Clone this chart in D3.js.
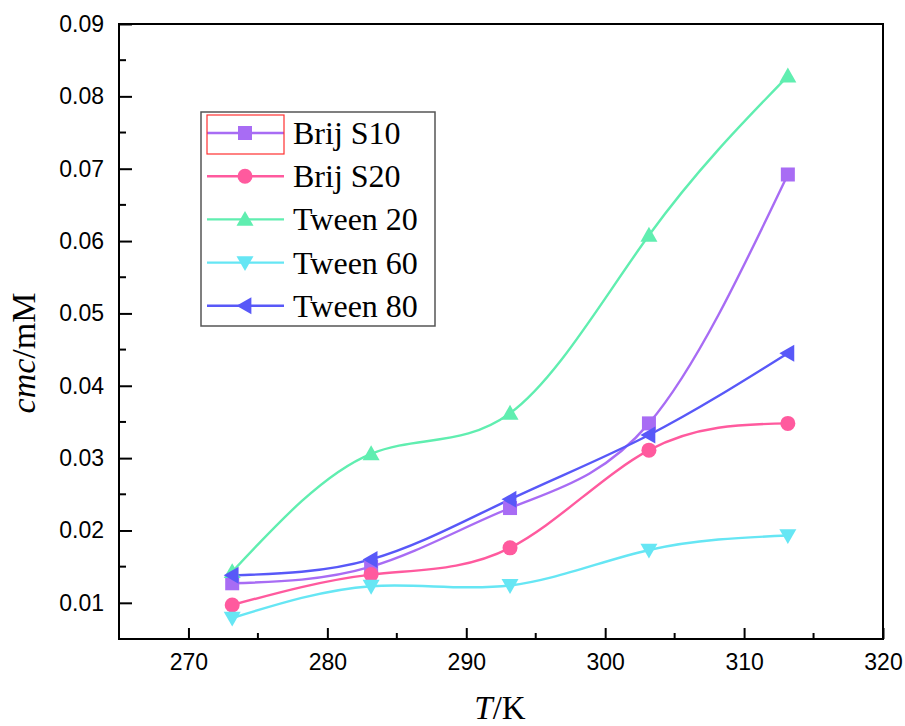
<!DOCTYPE html>
<html>
<head>
<meta charset="utf-8">
<script src="https://cdn.jsdelivr.net/npm/d3@7"></script>
<style>
  html, body { margin: 0; padding: 0; background: #fff; }
  svg { display: block; }
</style>
</head>
<body>
<svg id="chart" width="905" height="726"></svg>
<script>
// ---- Data ----
const temperatures = [273.15, 283.15, 293.15, 303.15, 313.15];
const seriesNames = ["Brij S10", "Brij S20", "Tween 20", "Tween 60", "Tween 80"];
const brijS10 = [0.0127, 0.0150, 0.0231, 0.0348, 0.0692];
const brijS20 = [0.0097, 0.0139, 0.0176, 0.0311, 0.0348];
const tween20 = [0.0143, 0.0306, 0.0362, 0.0608, 0.0828];
const tween60 = [0.0079, 0.0123, 0.0124, 0.0173, 0.0193];
const tween80 = [0.0138, 0.0160, 0.0243, 0.0332, 0.0445];
const xTicks = [270, 280, 290, 300, 310, 320];
const yTicks = [0.01, 0.02, 0.03, 0.04, 0.05, 0.06, 0.07, 0.08, 0.09];

const seriesValues = [brijS10, brijS20, tween20, tween60, tween80];
const colors = ["#A86CF4", "#FF5A9E", "#60EEB0", "#66E6F4", "#5858F8"];
const symbols = ["square", "circle", "triUp", "triDown", "triLeft"];

// ---- Layout ----
const svg = d3.select("#chart");
const L = 119, R = 883, T = 24, B = 639;
const x = d3.scaleLinear().domain([265, 320]).range([L, R]);
const y = d3.scaleLinear().domain([0.005, 0.09]).range([B, T]);

const g = svg.append("g");

// Series
const line = d3.line().x((d, i) => x(temperatures[i])).y(d => y(d)).curve(d3.curveNatural);

function drawMarker(sel, type, cx, cy, color) {
  if (type === "square") {
    sel.append("rect").attr("x", cx - 7).attr("y", cy - 7).attr("width", 14).attr("height", 14).attr("fill", color);
  } else if (type === "circle") {
    sel.append("circle").attr("cx", cx).attr("cy", cy).attr("r", 7.5).attr("fill", color);
  } else {
    const s = 8.5;
    let pts;
    if (type === "triUp") pts = [[cx, cy - s], [cx + s, cy + s * 0.75], [cx - s, cy + s * 0.75]];
    else if (type === "triDown") pts = [[cx, cy + s], [cx + s, cy - s * 0.75], [cx - s, cy - s * 0.75]];
    else pts = [[cx - s, cy], [cx + s * 0.75, cy - s], [cx + s * 0.75, cy + s]];
    sel.append("polygon").attr("points", pts.map(p => p.join(",")).join(" ")).attr("fill", color);
  }
}

seriesValues.forEach((vals, si) => {
  g.append("path").attr("d", line(vals)).attr("fill", "none")
    .attr("stroke", colors[si]).attr("stroke-width", 2.4);
});
seriesValues.forEach((vals, si) => {
  const mg = g.append("g");
  vals.forEach((v, i) => drawMarker(mg, symbols[si], x(temperatures[i]), y(v), colors[si]));
});

// Axes frame
g.append("rect").attr("x", L).attr("y", T).attr("width", R - L).attr("height", B - T)
  .attr("fill", "none").attr("stroke", "#000").attr("stroke-width", 2);

// X axis ticks (inward)
const xAxis = d3.axisBottom(x).tickValues(xTicks).tickSizeInner(-11).tickSizeOuter(0).tickPadding(15).tickFormat(d3.format("d"));
const xa = g.append("g").attr("transform", `translate(0,${B})`).call(xAxis);
xa.select(".domain").remove();
xa.selectAll(".tick line").attr("stroke", "#000").attr("stroke-width", 2);
xa.selectAll(".tick text").attr("font-family", "Liberation Sans, Arial, sans-serif").attr("font-size", 23).attr("fill", "#000");
const xMinor = d3.range(275, 320, 10);
g.selectAll(".xminor").data(xMinor).enter().append("line")
  .attr("x1", d => x(d)).attr("x2", d => x(d)).attr("y1", B).attr("y2", B - 6)
  .attr("stroke", "#000").attr("stroke-width", 2);

// Y axis
const yAxis = d3.axisLeft(y).tickValues(yTicks).tickSizeInner(-13).tickSizeOuter(0).tickPadding(15).tickFormat(d3.format(".2f"));
const ya = g.append("g").attr("transform", `translate(${L},0)`).call(yAxis);
ya.select(".domain").remove();
ya.selectAll(".tick line").attr("stroke", "#000").attr("stroke-width", 2);
ya.selectAll(".tick text").attr("font-family", "Liberation Sans, Arial, sans-serif").attr("font-size", 23).attr("fill", "#000");
const yMinor = [0.015, 0.025, 0.035, 0.045, 0.055, 0.065, 0.075, 0.085];
g.selectAll(".yminor").data(yMinor).enter().append("line")
  .attr("x1", L).attr("x2", L + 7).attr("y1", d => y(d)).attr("y2", d => y(d))
  .attr("stroke", "#000").attr("stroke-width", 2);

// Axis titles
const xt = svg.append("text").attr("x", 500).attr("y", 719).attr("text-anchor", "middle")
  .attr("font-family", "Liberation Serif, Times New Roman, serif").attr("font-size", 33);
xt.append("tspan").attr("font-style", "italic").text("T");
xt.append("tspan").text("/K");

const yt = svg.append("text").attr("transform", "translate(35,353) rotate(-90)").attr("text-anchor", "middle")
  .attr("font-family", "Liberation Serif, Times New Roman, serif").attr("font-size", 34);
yt.append("tspan").attr("font-style", "italic").text("cmc");
yt.append("tspan").text("/mM");

// Legend
const lg = svg.append("g");
lg.append("rect").attr("x", 201).attr("y", 112).attr("width", 234).attr("height", 214)
  .attr("fill", "#fff").attr("stroke", "#555").attr("stroke-width", 1.5);
const rowY0 = 133, rowDy = 43.2;
seriesNames.forEach((name, si) => {
  const ry = rowY0 + si * rowDy;
  lg.append("line").attr("x1", 207).attr("x2", 284).attr("y1", ry).attr("y2", ry)
    .attr("stroke", colors[si]).attr("stroke-width", 2.4);
  drawMarker(lg, symbols[si], 245, ry, colors[si]);
  lg.append("text").attr("x", 293).attr("y", ry + 11).text(name)
    .attr("font-family", "Liberation Serif, Times New Roman, serif").attr("font-size", 32).attr("fill", "#000");
});
lg.append("rect").attr("x", 207).attr("y", 115).attr("width", 77).attr("height", 39)
  .attr("fill", "none").attr("stroke", "#FF3030").attr("stroke-width", 1.2);
</script>
</body>
</html>
